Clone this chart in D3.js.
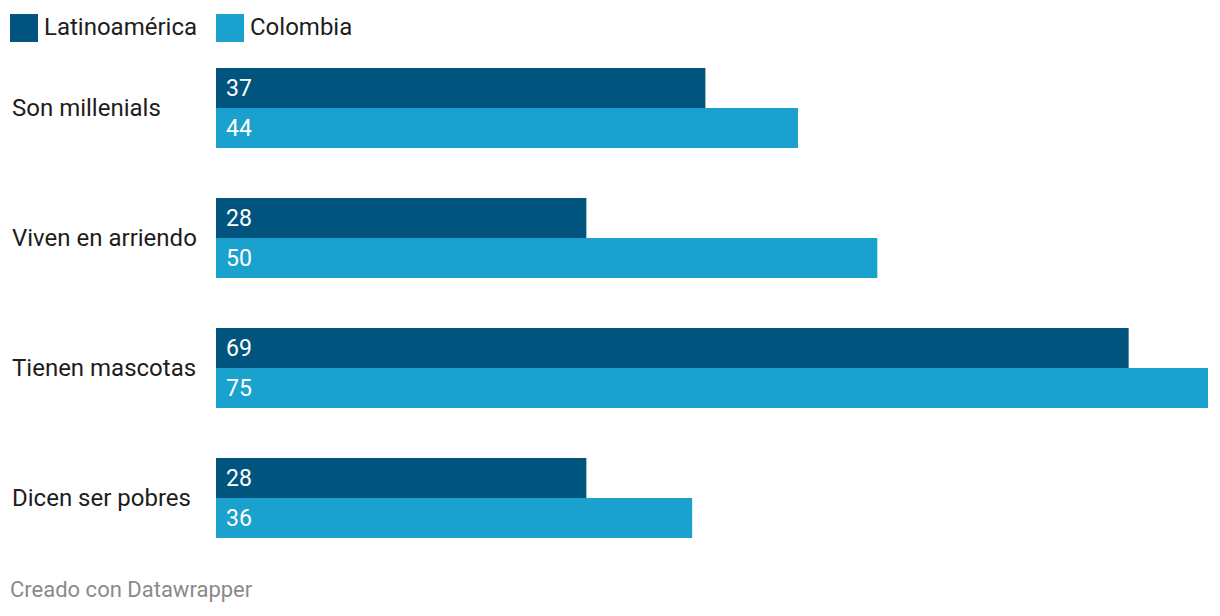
<!DOCTYPE html>
<html><head><meta charset="utf-8">
<script src="https://cdn.jsdelivr.net/npm/d3@7"></script>
<style>body{margin:0;background:#fff;font-family:Roboto,sans-serif}</style>
</head><body><svg id="c" width="1220" height="616"></svg>
<script>
const categories = ["Son millenials","Viven en arriendo","Tienen mascotas","Dicen ser pobres"];
const seriesNames = ["Latinoamérica","Colombia"];
const latam = [37,28,69,28];
const colombia = [44,50,75,36];
const colors = ["#01547e","#1aa1ce"];

const svg = d3.select("#c");
const x = d3.scaleLinear().domain([0,75]).range([216,1208]);
const y = d3.scaleBand().domain(categories).range([68,538]).paddingInner(50/130).paddingOuter(0);
const y2 = d3.scaleBand().domain(seriesNames).range([0,y.bandwidth()]);

const leg = [{n:seriesNames[0],x:10},{n:seriesNames[1],x:216}];
leg.forEach((l,i)=>{
  svg.append("rect").attr("x",l.x).attr("y",14).attr("width",28).attr("height",28).attr("fill",colors[i]);
  svg.append("text").attr("x",l.x+34).attr("y",35).attr("font-size",24).attr("fill","#1d1d1d").text(l.n);
});

const series = [latam, colombia];
categories.forEach((c,ci)=>{
  const g = svg.append("g").attr("transform",`translate(0,${y(c)})`);
  g.append("text").attr("x",12).attr("y",y.bandwidth()/2+8).attr("font-size",24).attr("fill","#1d1d1d").text(c);
  series.forEach((s,si)=>{
    g.append("rect").attr("x",x(0)).attr("y",y2(seriesNames[si])).attr("width",x(s[ci])-x(0)).attr("height",y2.bandwidth()).attr("fill",colors[si]);
    g.append("text").attr("x",x(0)+10).attr("y",y2(seriesNames[si])+y2.bandwidth()/2+8).attr("font-size",23).attr("fill","#fff").text(s[ci]);
  });
});

svg.append("text").attr("x",10).attr("y",597).attr("font-size",22).attr("fill","#8a8a8a").text("Creado con Datawrapper");
</script></body></html>
